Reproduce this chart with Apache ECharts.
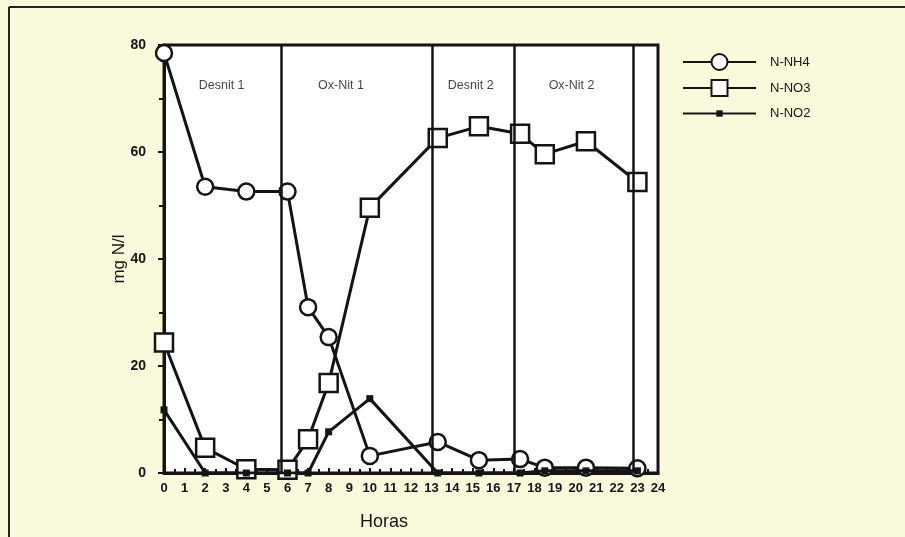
<!DOCTYPE html>
<html>
<head>
<meta charset="utf-8">
<script src="https://cdn.jsdelivr.net/npm/echarts@6/dist/echarts.min.js"></script>
<style>
  html, body { margin: 0; padding: 0; background: #fbf9dc; }
  #chart { width: 905px; height: 537px; }
</style>
</head>
<body>
<div id="chart"></div>
<script>
// Sampling times (hours) and concentrations (mg N/l)
const hours = [0, 2, 4, 6, 7, 8, 10, 13.3, 15.3, 17.3, 18.5, 20.5, 23];
const nh4 = [78.5, 53.5, 52.6, 52.6, 31, 25.4, 3.2, 5.8, 2.4, 2.6, 1, 1, 0.9];
const no3 = [24.4, 4.7, 0.7, 0.6, 6.3, 16.8, 49.6, 62.6, 64.8, 63.4, 59.6, 62, 54.4];
const no2 = [11.8, 0, 0, 0, 0, 7.7, 13.9, 0, 0, 0, 0.4, 0.4, 0.4];

// Phase boundaries and phase names
const phaseBounds = [5.7, 13.05, 17, 22.8];
const phaseNames = ['Desnit 1', 'Ox-Nit 1', 'Desnit 2', 'Ox-Nit 2'];
const phaseLabelX = [2.8, 8.6, 14.9, 19.8];
const phaseLabelY = 72.5;

const seriesNames = ['N-NH4', 'N-NO3', 'N-NO2'];

const pairs = (ys) => hours.map((h, i) => [h, ys[i]]);
const INK = '#141414';

const chart = echarts.init(document.getElementById('chart'), null, { renderer: 'canvas' });

const legendBase = {
  orient: 'vertical',
  left: 677,
  itemWidth: 73,
  textStyle: { color: INK, fontSize: 13, padding: [0, 0, 0, 9] }
};

chart.setOption({
  backgroundColor: '#fbf9dc',
  animation: false,
  textStyle: { fontFamily: 'Liberation Sans, Arial, sans-serif' },
  graphic: [
    { type: 'line', shape: { x1: 9, y1: 7, x2: 905, y2: 7 }, style: { stroke: '#222', lineWidth: 2 } },
    { type: 'line', shape: { x1: 9, y1: 7, x2: 9, y2: 537 }, style: { stroke: '#222', lineWidth: 2 } }
  ],
  grid: {
    left: 164, right: 247, top: 45, bottom: 64,
    show: true, backgroundColor: '#ffffff', borderColor: INK, borderWidth: 3
  },
  legend: [
    Object.assign({}, legendBase, { data: [seriesNames[0], seriesNames[1]], top: 48, itemHeight: 20, itemGap: 8 }),
    Object.assign({}, legendBase, { data: [seriesNames[2]], top: 102, itemHeight: 8 })
  ],
  xAxis: {
    type: 'value', min: 0, max: 24, interval: 1,
    name: 'Horas', nameLocation: 'middle', nameGap: 40,
    nameTextStyle: { fontSize: 18, color: INK, padding: [0, 54, 0, 0] },
    axisLine: { show: true, onZero: false, lineStyle: { color: INK, width: 3 } },
    axisTick: { show: true, inside: true, length: 5, lineStyle: { color: INK, width: 2 } },
    minorTick: { show: true, splitNumber: 2, length: 4, lineStyle: { color: INK, width: 2 } },
    axisLabel: { color: INK, fontSize: 13, fontWeight: 'bold', margin: 9 },
    splitLine: { show: false }
  },
  yAxis: {
    type: 'value', min: 0, max: 80, interval: 20,
    name: 'mg N/l', nameLocation: 'middle', nameGap: 36, nameRotate: 90,
    nameMoveOverlap: false,
    nameTextStyle: { fontSize: 17, color: INK },
    axisLine: { show: true, lineStyle: { color: INK, width: 3 } },
    axisTick: { show: true, inside: false, length: 6, lineStyle: { color: INK, width: 2 } },
    minorTick: { show: true, splitNumber: 2, length: 5, lineStyle: { color: INK, width: 2 } },
    axisLabel: { color: INK, fontSize: 14, fontWeight: 'bold', margin: 18 },
    splitLine: { show: false }
  },
  series: [
    {
      name: 'N-NH4', type: 'line', data: pairs(nh4),
      symbol: 'circle', symbolSize: 16,
      lineStyle: { color: INK, width: 3 },
      itemStyle: { color: '#ffffff', borderColor: INK, borderWidth: 2.5 },
      z: 3,
      markLine: {
        silent: true, symbol: 'none',
        lineStyle: { color: INK, width: 2.5, type: 'solid' },
        label: { show: false },
        data: phaseBounds.map(v => ({ xAxis: v }))
      }
    },
    {
      name: 'N-NO3', type: 'line', data: pairs(no3),
      symbol: 'rect', symbolSize: 18,
      lineStyle: { color: INK, width: 3 },
      itemStyle: { color: '#ffffff', borderColor: INK, borderWidth: 2.5 },
      z: 4
    },
    {
      name: 'N-NO2', type: 'line', data: pairs(no2),
      symbol: 'rect', symbolSize: 7,
      lineStyle: { color: INK, width: 3 },
      itemStyle: { color: INK, borderColor: INK, borderWidth: 0 },
      z: 5
    },
    {
      name: 'phases', type: 'scatter', symbolSize: 0, silent: true,
      data: phaseLabelX.map((x, i) => [x, phaseLabelY, phaseNames[i]]),
      label: {
        show: true, position: 'inside', color: INK, fontSize: 12.5,
        formatter: p => p.data[2]
      },
      z: 6
    }
  ]
});
</script>
</body>
</html>
